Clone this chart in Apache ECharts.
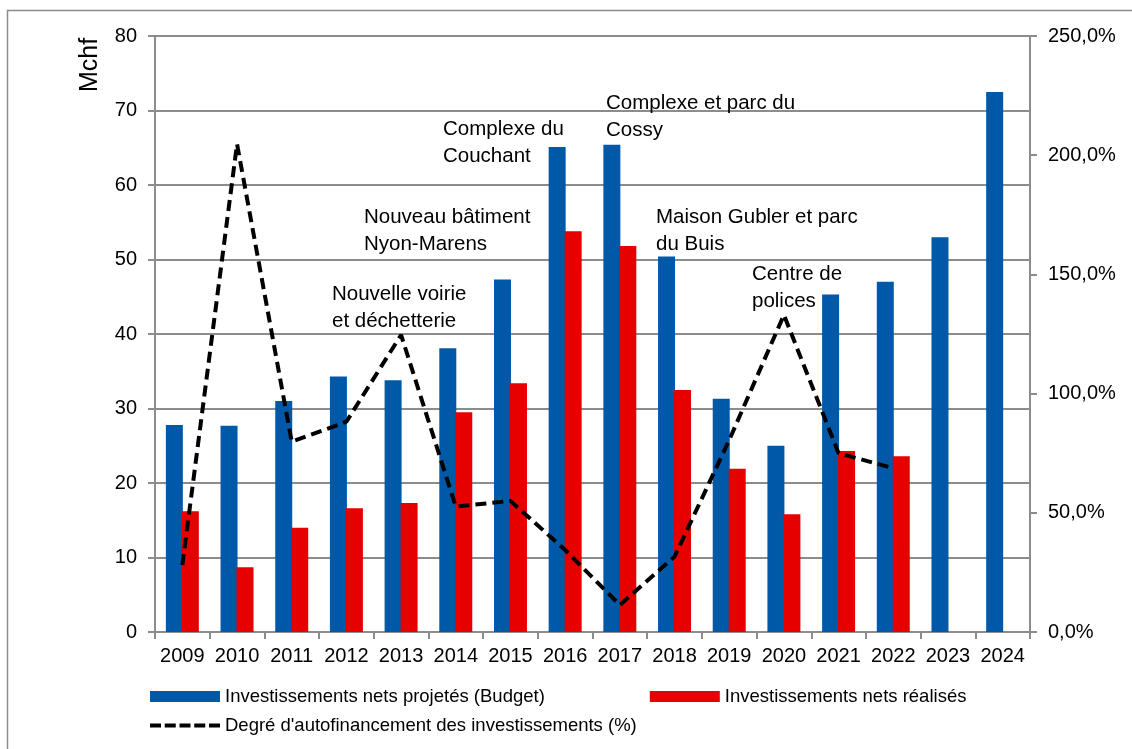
<!DOCTYPE html>
<html>
<head>
<meta charset="utf-8">
<script src="https://cdn.jsdelivr.net/npm/echarts@6/dist/echarts.min.js"></script>
<style>html,body{margin:0;padding:0;background:#fff}#c{width:1132px;height:749px}</style>
</head>
<body>
<div id="c"></div>
<script>
const years = ['2009','2010','2011','2012','2013','2014','2015','2016','2017','2018','2019','2020','2021','2022','2023','2024'];
const budget = [27.8, 27.7, 31.0, 34.3, 33.8, 38.1, 47.3, 65.1, 65.4, 50.4, 31.3, 25.0, 45.3, 47.0, 53.0, 72.5];
const realise = [16.2, 8.7, 14.0, 16.6, 17.3, 29.5, 33.4, 53.8, 51.8, 32.5, 21.9, 15.8, 24.3, 23.6, '-', '-'];
const autofin = [28.1, 204.7, 79.8, 88.2, 124.6, 52.6, 55.0, 34.4, 11.3, 31.6, 80.5, 133.0, 75.0, 68.7, '-', '-'];
const seriesNames = ['Investissements nets projetés (Budget)', 'Investissements nets réalisés', "Degré d'autofinancement des investissements (%)"];
const annotations = [
  {text: 'Complexe du\nCouchant', x: 443, y: 116},
  {text: 'Complexe et parc du\nCossy', x: 606, y: 90},
  {text: 'Nouveau bâtiment\nNyon-Marens', x: 364, y: 204},
  {text: 'Nouvelle voirie\net déchetterie', x: 332, y: 281},
  {text: 'Maison Gubler et parc\ndu Buis', x: 656, y: 204},
  {text: 'Centre de\npolices', x: 752, y: 261}
];

const FONT = 'Liberation Sans, Arial, sans-serif';
const GRAY = '#8c8c8c';
const DASH_ICON = 'path://M0,0h11v4h-11zM14.75,0h11v4h-11zM29.5,0h11v4h-11zM44.25,0h11v4h-11zM59,0h11v4h-11z';
const chart = echarts.init(document.getElementById('c'), null, {renderer: 'canvas'});

const graphics = [
  {type: 'rect', shape: {x: 7.5, y: 10.5, width: 1200, height: 800}, style: {fill: 'none', stroke: GRAY, lineWidth: 1.5}, silent: true, z: -10},
  {type: 'text', x: 90, y: 65, rotation: Math.PI / 2, style: {text: 'Mchf', font: '25px ' + FONT, fill: '#000', textAlign: 'center', textVerticalAlign: 'middle'}}
];
annotations.forEach(a => graphics.push({
  type: 'text', x: a.x, y: a.y, z: 100,
  style: {text: a.text, font: '20.5px ' + FONT, fill: '#000', lineHeight: 27, textAlign: 'left', textVerticalAlign: 'top'}
}));

chart.setOption({
  animation: false,
  textStyle: {fontFamily: FONT},
  grid: {left: 155, right: 102, top: 36, bottom: 117, containLabel: false},
  legend: [
    {data: [seriesNames[0], seriesNames[1]], left: 145, top: 682, itemWidth: 70, itemHeight: 11, itemGap: 105,
     icon: 'rect', textStyle: {fontSize: 18.5, color: '#000', fontFamily: FONT}},
    {data: [{name: seriesNames[2], icon: DASH_ICON, itemStyle: {color: '#000'}}], left: 145, top: 711, itemWidth: 70, itemHeight: 4,
     textStyle: {fontSize: 18.5, color: '#000', fontFamily: FONT}}
  ],
  xAxis: {
    type: 'category', data: years, boundaryGap: true,
    axisLine: {lineStyle: {color: GRAY, width: 2}},
    axisTick: {show: true, length: 7, lineStyle: {color: GRAY, width: 2}},
    axisLabel: {fontSize: 20, color: '#000', margin: 14, interval: 0}
  },
  yAxis: [
    {type: 'value', min: 0, max: 80, interval: 10,
     axisLine: {show: true, lineStyle: {color: GRAY, width: 2}},
     axisTick: {show: true, length: 7, lineStyle: {color: GRAY, width: 2}},
     splitLine: {show: true, lineStyle: {color: GRAY, width: 2}},
     axisLabel: {fontSize: 20, color: '#000', margin: 18}},
    {type: 'value', min: 0, max: 250, interval: 50, position: 'right',
     axisLine: {show: true, lineStyle: {color: GRAY, width: 2}},
     axisTick: {show: true, length: 7, lineStyle: {color: GRAY, width: 2}},
     splitLine: {show: false},
     axisLabel: {fontSize: 20, color: '#000', margin: 18, formatter: v => v.toFixed(1).replace('.', ',') + '%'}}
  ],
  series: [
    {name: seriesNames[0], type: 'bar', data: budget, barWidth: 17, barGap: '-6%', itemStyle: {color: '#0058A8'}},
    {name: seriesNames[1], type: 'bar', data: realise, barWidth: 17, itemStyle: {color: '#E60000'}},
    {name: seriesNames[2], type: 'line', yAxisIndex: 1, data: autofin, symbol: 'none', showSymbol: false, z: 10,
     lineStyle: {color: '#000', width: 4, type: [11, 6]}, itemStyle: {color: '#000'}}
  ],
  graphic: graphics
});
</script>
</body>
</html>
